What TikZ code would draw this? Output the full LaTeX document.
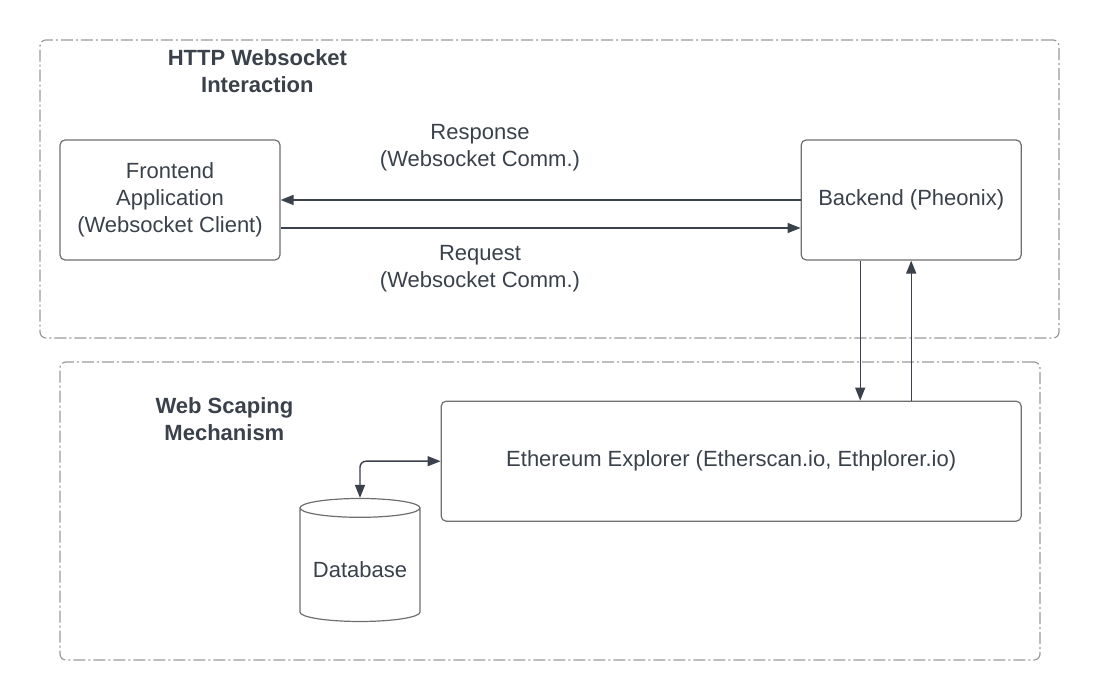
\documentclass[tikz,border=0pt]{standalone}
\usepackage{fontspec}
\setmainfont{Liberation Sans}
\usepackage{tikz}
\usetikzlibrary{arrows.meta, shapes.geometric}
\usetikzlibrary{positioning}

\definecolor{inkgray}{HTML}{3A414A}
\definecolor{boxgray}{HTML}{6E6E6E}
\definecolor{framegray}{HTML}{9A9A9A}

\tikzset{
    block/.style={draw=boxgray, line width=0.6pt, rounded corners=2.5pt,
        align=center, text=inkgray},
    group/.style={draw=framegray, line width=0.6pt, rounded corners=3pt,
        dash pattern=on 6pt off 1.5pt on 1pt off 1.5pt},
    link/.style={draw=inkgray, line width=0.7pt,
        -{Triangle[length=6.5pt, width=5pt]}},
    heading/.style={font=\bfseries\fontsize{11pt}{13.5pt}\selectfont,
        text=inkgray, align=center},
    caption/.style={text=inkgray, align=center}
}

\begin{document}
\begin{tikzpicture}[font=\fontsize{11pt}{13.5pt}\selectfont]

\useasboundingbox (0,0) rectangle (550pt,350pt);

\node [group,
    minimum width=509.5pt,
    minimum height=149pt
] (http_group) at (274.75pt,255.5pt) {};

\node [group,
    minimum width=490pt,
    minimum height=149pt
] (scraping_group) at (275pt,94.5pt) {};

\node [heading] (http_title) at ([shift={(109pt,-16pt)}]http_group.north west)
    {HTTP Websocket\\Interaction};

\node [heading] (scraping_title) at ([shift={(82.5pt,-29pt)}]scraping_group.north west)
    {Web Scaping\\Mechanism};

\node [block,
    minimum width=110pt,
    minimum height=60pt
] (frontend) at (85pt,250pt) {Frontend\\Application\\(Websocket Client)};

\node [block,
    minimum width=110pt,
    minimum height=60pt,
    right=260pt of frontend
] (backend) {Backend (Pheonix)};

\node [block,
    minimum width=290pt,
    minimum height=60pt,
    below left=70pt and 0pt of backend.south east
] (explorer) {Ethereum Explorer (Etherscan.io, Ethplorer.io)};

\node [draw=boxgray,
    line width=0.6pt,
    text=inkgray,
    shape=cylinder,
    shape border rotate=90,
    aspect=0.2,
    inner sep=0pt,
    text height=13pt,
    text depth=0pt,
    minimum width=60pt,
    minimum height=61.5pt,
    anchor=shape center
] (database) at (180pt,70pt) {Database};

\node [caption] (response_label) at (240pt,276pt) {Response\\(Websocket Comm.)};
\node [caption] (request_label) at (240pt,215.5pt) {Request\\(Websocket Comm.)};

\draw [link] (backend.west) -- (frontend.east);
\draw [link] ([yshift=-14pt]frontend.east) -- ([yshift=-14pt]backend.west);

\draw [link] ([xshift=-25.5pt]backend.south) -- ([xshift=-25.5pt]backend.south |- explorer.north);
\draw [link] (backend.south |- explorer.north) -- (backend.south);

\draw [link, {Triangle[length=6.5pt, width=5pt]}-{Triangle[length=6.5pt, width=5pt]},
    rounded corners=3pt] (explorer.west) -| (database.north);

\end{tikzpicture}
\end{document}
